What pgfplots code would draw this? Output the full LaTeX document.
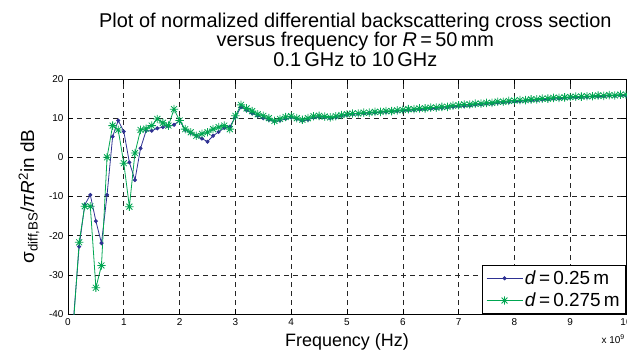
\documentclass[border=0pt]{standalone}
\usepackage{fontspec}
\setmainfont{Liberation Sans}
\usepackage{pgfplots}
\usepackage{pgfplotstable}
\pgfplotsset{compat=1.18}

\definecolor{mblue}{RGB}{46,49,146}
\definecolor{mgreen}{RGB}{0,166,81}

\pgfdeclareplotmark{mstar}{%
 \pgfpathmoveto{\pgfqpoint{-\pgfplotmarksize}{0pt}}\pgfpathlineto{\pgfqpoint{\pgfplotmarksize}{0pt}}%
 \pgfpathmoveto{\pgfqpoint{0pt}{-\pgfplotmarksize}}\pgfpathlineto{\pgfqpoint{0pt}{\pgfplotmarksize}}%
 \pgfpathmoveto{\pgfqpoint{-0.7071\pgfplotmarksize}{-0.7071\pgfplotmarksize}}\pgfpathlineto{\pgfqpoint{0.7071\pgfplotmarksize}{0.7071\pgfplotmarksize}}%
 \pgfpathmoveto{\pgfqpoint{-0.7071\pgfplotmarksize}{0.7071\pgfplotmarksize}}\pgfpathlineto{\pgfqpoint{0.7071\pgfplotmarksize}{-0.7071\pgfplotmarksize}}%
 \pgfusepathqstroke}

% frequency in GHz, value in dB
\pgfplotstableread{
f v
0.1 -41
0.2 -22.8
0.3 -12.1
0.4 -9.6
0.5 -16.3
0.6 -21.9
0.7 -9.6
0.8 5.3
0.9 9.4
1.0 6.6
1.1 -1.3
1.2 -5.8
1.3 2.3
1.4 6.8
1.5 6.8
1.6 7.4
1.7 7.7
1.8 7.9
1.9 8.3
2.0 9.4
2.1 7.0
2.2 6.2
2.3 5.5
2.4 4.8
2.5 4.0
2.6 5.5
2.7 6.5
2.8 7.5
2.9 7.8
3.0 10.3
3.1 12.8
3.2 12.0
3.3 11.2
3.4 10.6
3.5 10.0
3.6 9.6
3.7 9.2
3.8 9.4
3.9 9.8
4.0 10.2
4.1 9.8
4.2 9.3
4.3 9.6
4.4 10.1
4.5 10.3
4.6 10.2
4.7 10.0
4.8 10.2
4.9 10.5
5.0 10.8
5.1 11.0
5.2 11.1
5.3 11.2
5.4 11.3
5.5 11.4
5.6 11.5
5.7 11.6
5.8 11.7
5.9 11.8
6.0 11.9
6.1 12.0
6.2 12.1
6.3 12.2
6.4 12.3
6.5 12.4
6.6 12.5
6.7 12.6
6.8 12.7
6.9 12.9
7.0 13.0
7.1 13.1
7.2 13.2
7.3 13.4
7.4 13.5
7.5 13.6
7.6 13.7
7.7 13.9
7.8 14.0
7.9 14.1
8.0 14.2
8.1 14.3
8.2 14.4
8.3 14.5
8.4 14.6
8.5 14.7
8.6 14.8
8.7 14.9
8.8 15.0
8.9 15.1
9.0 15.2
9.1 15.3
9.2 15.3
9.3 15.4
9.4 15.5
9.5 15.5
9.6 15.6
9.7 15.7
9.8 15.7
9.9 15.8
10.0 15.8
}\dataA

\pgfplotstableread{
f v
0.1 -42
0.2 -21.7
0.3 -12.5
0.4 -12.5
0.5 -33.3
0.6 -27.6
0.7 0.0
0.8 8.1
0.9 7.0
1.0 -1.5
1.1 -12.6
1.2 1.1
1.3 7.0
1.4 7.3
1.5 8.1
1.6 9.8
1.7 8.8
1.8 8.1
1.9 12.3
2.0 9.4
2.1 7.2
2.2 6.4
2.3 5.5
2.4 6.0
2.5 6.4
2.6 7.2
2.7 7.7
2.8 8.1
2.9 7.2
3.0 10.6
3.1 13.4
3.2 12.5
3.3 11.8
3.4 11.0
3.5 10.6
3.6 10.0
3.7 9.3
3.8 9.8
3.9 10.3
4.0 10.5
4.1 10.0
4.2 9.6
4.3 10.0
4.4 10.5
4.5 10.6
4.6 10.4
4.7 10.2
4.8 10.5
4.9 10.8
5.0 11.0
5.1 11.2
5.2 11.2
5.3 11.4
5.4 11.4
5.5 11.6
5.6 11.6
5.7 11.8
5.8 11.8
5.9 12.0
6.0 12.1
6.1 12.3
6.2 12.3
6.3 12.5
6.4 12.5
6.5 12.7
6.6 12.7
6.7 12.9
6.8 12.9
6.9 13.2
7.0 13.3
7.1 13.5
7.2 13.5
7.3 13.7
7.4 13.7
7.5 13.9
7.6 13.9
7.7 14.2
7.8 14.2
7.9 14.4
8.0 14.5
8.1 14.6
8.2 14.6
8.3 14.8
8.4 14.8
8.5 15.0
8.6 15.0
8.7 15.2
8.8 15.2
8.9 15.3
9.0 15.4
9.1 15.5
9.2 15.5
9.3 15.6
9.4 15.6
9.5 15.8
9.6 15.7
9.7 15.9
9.8 15.8
9.9 16.0
10.0 16.0
}\dataB

\begin{document}
\begin{tikzpicture}
\begin{axis}[
  name=ax,
  scale only axis,
  width=558bp, height=235bp,
  xmin=0, xmax=10, ymin=-40, ymax=20,
  xtick={0,1,...,10}, ytick={-40,-30,...,20},
  grid=major,
  major grid style={black!85, dash pattern=on 5bp off 4bp, line width=0.6bp},
  axis line style={black, line width=0.8bp},
  tick align=inside,
  major tick length=5bp,
  tick style={black, line width=0.6bp},
  ticklabel style={font=\fontsize{10}{12}\selectfont},
  /pgf/number format/assume math mode=true,
  xticklabel style={yshift=-1bp},
  yticklabel style={xshift=-1bp},
  title={Plot of normalized differential backscattering cross section\\versus frequency for \textit{R}\,=\,50\,mm\\0.1\,GHz to 10\,GHz},
  title style={font=\fontsize{20}{19.5}\selectfont, align=center, inner sep=0pt,
     at={(axis description cs:0.515,1.028)}, anchor=south},
  xlabel={Frequency (Hz)},
  xlabel style={font=\fontsize{18}{20}\selectfont, inner sep=0pt,
     at={(axis description cs:0.5,-0.1404)}, anchor=base},
  ylabel={σ\textsubscript{diff,BS}/\textit{πR}\textsuperscript{2}in dB},
  ylabel style={font=\fontsize{19}{20}\selectfont, inner sep=0pt,
     at={(axis description cs:-0.0609,0.5)}, anchor=base},
  legend style={at={(1,0)}, anchor=south east, font=\fontsize{19}{22}\selectfont,
     draw=black, line width=0.8bp, inner xsep=4bp, inner ysep=3.5bp, row sep=3bp, cells={anchor=west}},
  legend image code/.code={\draw[#1, mark=none] (0bp,0bp) -- (36bp,0bp);
      \draw[#1] plot[only marks] coordinates {(18bp,0bp)};},
]
\addplot[mblue, line width=0.8bp, mark=*, mark size=1.6bp, mark options={solid}] table[x=f,y=v] {\dataA};
\addlegendentry{\textit{d}\,=\,0.25\,m}
\addplot[mgreen, line width=0.8bp, mark=mstar, mark size=4.2bp, mark options={solid}] table[x=f,y=v] {\dataB};
\addlegendentry{\textit{d}\,=\,0.275\,m}
\end{axis}
\node[anchor=base east, font=\fontsize{10}{12}\selectfont, inner sep=0pt] at ([xshift=-1bp,yshift=-29bp]ax.south east) {x 10\textsuperscript{9}};
\pgfresetboundingbox
\path ([xshift=-68bp,yshift=-44bp]ax.south west) rectangle ([xshift=1bp,yshift=79bp]ax.north east);
\end{tikzpicture}
\end{document}
